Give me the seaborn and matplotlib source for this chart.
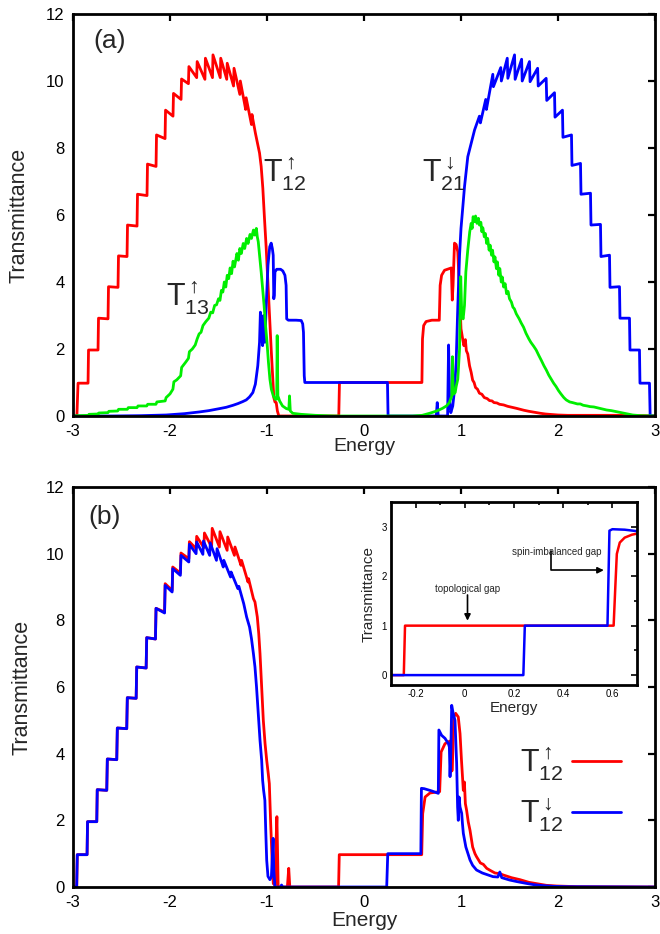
import matplotlib
matplotlib.use("Agg")
import matplotlib.pyplot as plt
import seaborn as sns

# ---------------- data ----------------
xticks_main = [-3, -2, -1, 0, 1, 2, 3]
xticklabels_main = ["-3", "-2", "-1", "0", "1", "2", "3"]
yticks_main = [0, 2, 4, 6, 8, 10, 12]
yticklabels_main = ["0", "2", "4", "6", "8", "10", "12"]
xticks_inset = [-0.2, 0.0, 0.2, 0.4, 0.6]
xticklabels_inset = ["-0.2", "0", "0.2", "0.4", "0.6"]
yticks_inset = [0, 1, 2, 3]
yticklabels_inset = ["0", "1", "2", "3"]

# panel (a): T12 up (red)
a_red = [(-3.0,0.0),(-2.96,0.0),(-2.948,0.98),(-2.845,0.98),(-2.84,1.97),(-2.742,1.97),(-2.737,2.92),
         (-2.639,2.9),(-2.634,3.86),(-2.536,3.84),(-2.531,4.78),(-2.443,4.76),(-2.438,5.70),(-2.34,5.67),
         (-2.335,6.62),(-2.237,6.58),(-2.232,7.52),(-2.144,7.45),(-2.139,8.39),(-2.051,8.28),(-2.046,9.13),
         (-1.969,8.95),(-1.964,9.63),(-1.886,9.45),(-1.881,10.06),(-1.81,9.92),(-1.805,10.43),(-1.725,10.1),
         (-1.72,10.58),(-1.64,10.05),(-1.635,10.68),(-1.562,10.1),(-1.557,10.78),(-1.482,10.1),(-1.477,10.68),
         (-1.415,10.05),(-1.41,10.53),(-1.345,9.85),(-1.34,10.38),(-1.28,9.6),(-1.275,10.0),(-1.22,9.15),
         (-1.215,9.5),(-1.16,8.7),(-1.155,9.0),(-1.12,8.45),(-1.095,8.1),(-1.077,7.85),(-1.06,7.45),
         (-1.043,6.8),(-1.026,5.9),(-1.008,5.0),(-0.991,4.0),(-0.974,3.0),(-0.957,2.0),(-0.94,1.1),
         (-0.93,0.55),(-0.918,0.42),(-0.905,0.4),(-0.893,0.15),(-0.878,0.0),(-0.26,0.0),(-0.253,1.0),
         (0.597,1.0),(0.603,2.3),(0.615,2.7),(0.64,2.82),(0.7,2.86),(0.776,2.86),(0.785,3.9),(0.8,4.2),
         (0.83,4.35),(0.9,4.42),(0.91,3.46),(0.918,3.9),(0.933,5.16),(0.95,5.12),(0.967,4.9),(0.985,3.7),
         (1.0,2.6),(1.019,2.27),(1.03,2.1),(1.045,2.28),(1.055,1.95),(1.07,1.85),(1.088,1.5),(1.105,1.3),
         (1.12,1.07),(1.135,1.0),(1.15,0.85),(1.17,0.8),(1.19,0.68),(1.215,0.65),(1.24,0.55),(1.27,0.52),
         (1.294,0.46),(1.32,0.45),(1.34,0.4),(1.37,0.39),(1.397,0.35),(1.44,0.33),(1.48,0.29),(1.525,0.26),
         (1.57,0.23),(1.61,0.2),(1.65,0.17),(1.7,0.14),(1.74,0.12),(1.78,0.1),(1.82,0.08),(1.87,0.06),
         (1.91,0.05),(2.0,0.03),(2.1,0.02),(2.3,0.02),(2.6,0.02),(2.9,0.01),(3.0,0.0)]

# panel (a): T21 down (blue)
a_blue = [(-3.0,0.0),(-2.6,0.0),(-2.3,0.01),(-2.04,0.03),(-1.85,0.07),(-1.7,0.12),(-1.6,0.16),(-1.49,0.22),
          (-1.42,0.26),(-1.35,0.32),(-1.3,0.37),(-1.25,0.43),(-1.214,0.48),(-1.18,0.57),(-1.146,0.7),
          (-1.12,0.95),(-1.095,1.5),(-1.077,2.2),(-1.068,3.1),(-1.058,2.5),(-1.045,2.1),(-1.035,3.0),
          (-1.022,2.2),(-1.008,3.3),(-0.99,4.5),(-0.972,5.05),(-0.957,5.16),(-0.945,5.0),(-0.936,4.8),
          (-0.93,3.5),(-0.925,3.6),(-0.918,4.3),(-0.9,4.38),(-0.86,4.38),(-0.837,4.33),(-0.815,4.2),
          (-0.803,3.9),(-0.797,2.9),(-0.78,2.86),(-0.7,2.86),(-0.647,2.85),(-0.632,2.75),(-0.624,2.5),
          (-0.616,1.2),(-0.61,1.0),(0.242,1.0),(0.248,0.0),(0.745,0.0),(0.755,0.4),(0.765,0.0),(0.862,0.0),
          (0.872,2.12),(0.882,0.5),(0.895,0.1),(0.915,0.3),(0.933,0.78),(0.95,1.6),(0.967,3.26),(0.985,4.8),
          (1.0,5.6),(1.019,6.25),(1.036,6.84),(1.07,7.74),(1.105,8.14),(1.14,8.54),(1.19,8.95),(1.2,8.75),
          (1.255,9.45),(1.262,9.15),(1.328,10.2),(1.334,9.83),(1.41,10.4),(1.416,10.0),(1.477,10.68),
          (1.483,10.08),(1.552,10.78),(1.558,10.05),(1.625,10.65),(1.631,10.0),(1.706,10.58),(1.712,9.98),
          (1.79,10.38),(1.796,9.85),(1.878,10.08),(1.884,9.42),(1.964,9.65),(1.969,8.92),(2.046,9.13),
          (2.051,8.32),(2.139,8.39),(2.144,7.48),(2.232,7.54),(2.237,6.62),(2.335,6.65),(2.34,5.7),
          (2.438,5.72),(2.443,4.76),(2.531,4.8),(2.536,3.84),(2.634,3.86),(2.639,2.92),(2.737,2.92),
          (2.742,1.97),(2.84,1.97),(2.845,0.98),(2.943,0.98),(2.95,0.0),(3.0,0.0)]

# panel (a): T13 up (green)
a_green = [(-3.0,0.0),(-2.94,0.01),(-2.84,0.02),(-2.835,0.05),(-2.74,0.06),(-2.733,0.09),(-2.64,0.1),
           (-2.63,0.14),(-2.54,0.15),(-2.53,0.2),(-2.44,0.2),(-2.43,0.25),(-2.34,0.25),(-2.33,0.3),
           (-2.24,0.3),(-2.23,0.35),(-2.145,0.35),(-2.135,0.42),(-2.05,0.45),(-2.04,0.55),(-2.0,0.66),
           (-1.97,0.8),(-1.96,1.02),(-1.93,1.08),(-1.89,1.2),(-1.88,1.45),(-1.84,1.6),(-1.81,1.72),
           (-1.8,1.92),(-1.77,2.0),(-1.74,2.12),(-1.72,2.3),(-1.7,2.45),(-1.68,2.5),(-1.66,2.7),(-1.63,2.82),
           (-1.6,2.92),(-1.58,3.1),(-1.56,3.08),(-1.54,3.3),(-1.52,3.32),(-1.5,3.5),(-1.485,3.45),
           (-1.47,3.75),(-1.455,3.7),(-1.44,4.0),(-1.425,3.85),(-1.41,4.2),(-1.395,4.1),(-1.38,4.42),
           (-1.365,4.25),(-1.35,4.62),(-1.335,4.45),(-1.31,4.85),(-1.295,4.65),(-1.28,5.0),(-1.265,4.85),
           (-1.245,5.15),(-1.23,5.0),(-1.21,5.3),(-1.195,5.15),(-1.175,5.42),(-1.16,5.3),(-1.14,5.55),
           (-1.125,5.4),(-1.11,5.6),(-1.1,5.35),(-1.09,5.2),(-1.075,4.75),(-1.06,4.3),(-1.045,3.8),
           (-1.03,3.3),(-1.015,2.7),(-1.0,2.2),(-0.985,1.6),(-0.97,1.1),(-0.955,0.8),(-0.935,0.6),
           (-0.915,0.5),(-0.9,0.5),(-0.895,2.4),(-0.888,0.6),(-0.87,0.45),(-0.84,0.3),(-0.8,0.22),
           (-0.775,0.2),(-0.768,0.6),(-0.76,0.15),(-0.734,0.08),(-0.65,0.05),(-0.5,0.02),(-0.3,0.0),
           (0.5,0.0),(0.6,0.02),(0.675,0.08),(0.75,0.15),(0.81,0.23),(0.85,0.3),(0.88,0.4),(0.905,0.6),
           (0.912,1.77),(0.92,0.65),(0.94,0.7),(0.95,0.88),(0.967,1.1),(0.985,2.0),(0.997,4.16),
           (1.008,3.0),(1.022,2.9),(1.036,3.3),(1.05,4.3),(1.07,4.96),(1.09,5.5),(1.105,5.75),(1.115,5.6),
           (1.125,5.95),(1.14,5.8),(1.15,5.97),(1.165,5.75),(1.18,5.9),(1.19,5.7),(1.205,5.78),(1.215,5.5),
           (1.225,5.62),(1.24,5.35),(1.25,5.45),(1.265,5.15),(1.275,5.3),(1.29,4.95),(1.3,5.1),(1.315,4.8),
           (1.325,4.95),(1.34,4.6),(1.35,4.75),(1.365,4.4),(1.375,4.6),(1.39,4.2),(1.4,4.4),(1.415,4.0),
           (1.425,4.15),(1.44,3.85),(1.455,3.95),(1.47,3.65),(1.485,3.72),(1.5,3.5),(1.52,3.4),
           (1.535,3.25),(1.55,3.2),(1.57,3.05),(1.6,2.9),(1.62,2.78),(1.645,2.65),(1.67,2.47),(1.7,2.3),
           (1.72,2.2),(1.75,2.08),(1.775,1.97),(1.8,1.82),(1.83,1.65),(1.855,1.5),(1.88,1.37),(1.905,1.22),
           (1.93,1.1),(1.955,0.98),(1.98,0.88),(2.005,0.76),(2.03,0.66),(2.06,0.55),(2.085,0.48),
           (2.12,0.42),(2.15,0.4),(2.2,0.36),(2.23,0.36),(2.26,0.32),(2.3,0.3),(2.33,0.28),(2.37,0.27),
           (2.43,0.23),(2.47,0.2),(2.5,0.18),(2.55,0.16),(2.6,0.13),(2.65,0.1),(2.7,0.07),(2.77,0.03),
           (2.85,0.01),(3.0,0.0)]

# panel (b): T12 up (red)
b_red = [(-3.0,0.0),(-2.962,0.0),(-2.956,0.97),(-2.855,0.97),(-2.85,1.96),(-2.755,1.96),(-2.75,2.92),
         (-2.652,2.9),(-2.646,3.84),(-2.549,3.82),(-2.543,4.77),(-2.446,4.75),(-2.44,5.68),(-2.349,5.66),
         (-2.343,6.6),(-2.246,6.57),(-2.24,7.48),(-2.15,7.44),(-2.144,8.36),(-2.056,8.25),(-2.05,9.1),
         (-1.978,8.9),(-1.972,9.6),(-1.893,9.42),(-1.887,10.02),(-1.806,9.85),(-1.8,10.36),(-1.731,10.15),
         (-1.725,10.52),(-1.651,10.18),(-1.645,10.62),(-1.571,10.2),(-1.565,10.76),(-1.491,10.2),
         (-1.485,10.66),(-1.411,10.1),(-1.405,10.5),(-1.336,9.95),(-1.33,10.2),(-1.268,9.65),(-1.262,9.8),
         (-1.196,9.15),(-1.19,9.25),(-1.14,8.65),(-1.124,8.55),(-1.1,8.1),(-1.085,7.6),(-1.072,7.0),
         (-1.055,6.0),(-1.038,5.0),(-1.02,4.3),(-1.003,3.8),(-0.987,3.4),(-0.976,3.1),(-0.962,1.9),
         (-0.95,1.0),(-0.942,0.4),(-0.935,0.1),(-0.915,0.05),(-0.905,1.5),(-0.898,2.11),(-0.892,1.2),
         (-0.885,0.0),(-0.79,0.0),(-0.776,0.56),(-0.765,0.0),(-0.262,0.0),(-0.255,0.97),(0.595,0.97),
         (0.605,2.2),(0.63,2.7),(0.68,2.82),(0.78,2.86),(0.795,4.05),(0.835,4.3),(0.887,4.38),(0.895,3.46),
         (0.91,3.5),(0.925,5.1),(0.945,5.21),(0.972,5.1),(0.99,4.6),(1.005,3.8),(1.024,2.9),(1.035,3.15),
         (1.045,2.5),(1.058,2.3),(1.075,1.95),(1.093,1.7),(1.12,1.2),(1.144,1.0),(1.16,0.91),(1.2,0.72),
         (1.23,0.68),(1.265,0.56),(1.3,0.5),(1.35,0.42),(1.4,0.4),(1.436,0.36),(1.52,0.28),(1.608,0.22),
         (1.7,0.14),(1.78,0.1),(1.88,0.05),(1.986,0.03),(2.2,0.01),(3.0,0.0)]

# panel (b): T12 down (blue)
b_blue = [(-3.0,0.0),(-2.962,0.0),(-2.956,0.97),(-2.855,0.97),(-2.85,1.96),(-2.755,1.96),(-2.75,2.92),
          (-2.652,2.9),(-2.646,3.84),(-2.549,3.82),(-2.543,4.77),(-2.446,4.75),(-2.44,5.68),(-2.349,5.66),
          (-2.343,6.6),(-2.246,6.57),(-2.24,7.48),(-2.15,7.44),(-2.144,8.36),(-2.056,8.22),(-2.05,9.05),
          (-1.978,8.85),(-1.972,9.55),(-1.893,9.35),(-1.887,9.95),(-1.806,9.75),(-1.8,10.28),(-1.731,10.0),
          (-1.725,10.35),(-1.661,9.98),(-1.655,10.38),(-1.591,9.95),(-1.585,10.32),(-1.521,9.8),
          (-1.515,10.15),(-1.451,9.6),(-1.445,9.8),(-1.376,9.3),(-1.37,9.45),(-1.3,8.95),(-1.29,9.02),
          (-1.24,8.5),(-1.21,8.1),(-1.18,7.8),(-1.16,7.45),(-1.14,7.0),(-1.124,6.6),(-1.108,6.0),
          (-1.09,5.2),(-1.072,4.4),(-1.055,3.8),(-1.045,3.2),(-1.035,2.9),(-1.022,2.6),(-1.012,1.6),
          (-1.003,0.8),(-0.99,0.32),(-0.97,0.22),(-0.955,0.3),(-0.945,0.9),(-0.937,1.46),(-0.93,0.5),
          (-0.918,0.0),(-0.86,0.0),(-0.85,0.06),(-0.84,0.0),(0.234,0.0),(0.245,1.0),(0.586,1.0),
          (0.592,2.96),(0.62,2.95),(0.7,2.88),(0.766,2.81),(0.772,4.71),(0.8,4.55),(0.835,4.46),(0.87,4.3),
          (0.88,4.2),(0.887,3.31),(0.895,4.0),(0.904,5.45),(0.92,5.2),(0.938,5.0),(0.955,3.71),(0.965,2.4),
          (0.972,2.0),(0.98,2.7),(0.99,2.4),(1.007,2.21),(1.015,1.9),(1.024,1.61),(1.05,1.2),(1.093,0.81),
          (1.12,0.65),(1.16,0.51),(1.22,0.42),(1.28,0.36),(1.33,0.31),(1.38,0.3),(1.4,0.45),(1.42,0.28),
          (1.5,0.21),(1.58,0.16),(1.67,0.11),(1.75,0.07),(1.85,0.04),(1.95,0.02),(2.1,0.01),(3.0,0.0)]

# inset
in_red = [(-0.3,0.0),(-0.248,0.0),(-0.243,1.0),(0.605,1.0),(0.612,1.8),(0.618,2.45),(0.63,2.68),
          (0.65,2.78),(0.68,2.84),(0.7,2.86)]
in_blue = [(-0.3,0.0),(0.238,0.0),(0.244,1.0),(0.58,1.0),(0.588,2.92),(0.6,2.95),(0.65,2.94),(0.7,2.91)]

lab_up12 = r"$\mathrm{T}_{12}^{\uparrow}$"
lab_dn12 = r"$\mathrm{T}_{12}^{\downarrow}$"
lab_up13 = r"$\mathrm{T}_{13}^{\uparrow}$"
lab_dn21 = r"$\mathrm{T}_{21}^{\downarrow}$"

RED, BLUE, GREEN = "#ff0000", "#0000ff", "#00ee00"

# ---------------- style ----------------
sns.set_theme(style="white")
plt.rcParams["font.family"] = ["Liberation Sans", "DejaVu Sans"]
plt.rcParams["mathtext.fontset"] = "custom"
plt.rcParams["mathtext.rm"] = "Liberation Sans"
plt.rcParams["mathtext.it"] = "Liberation Sans:italic"
plt.rcParams["mathtext.bf"] = "Liberation Sans:bold"
plt.rcParams["axes.unicode_minus"] = False


def draw(ax, pts, color, label=None, lw=2.0):
    xs = [p[0] for p in pts]
    ys = [p[1] for p in pts]
    sns.lineplot(x=xs, y=ys, ax=ax, color=color, lw=lw, sort=False,
                 estimator=None, label=label, legend=False)


def style_main(ax):
    ax.set_xlim(-3, 3)
    ax.set_ylim(0, 12)
    ax.set_xticks(xticks_main)
    ax.set_xticklabels(xticklabels_main)
    ax.set_yticks(yticks_main)
    ax.set_yticklabels(yticklabels_main)
    ax.tick_params(direction="in", top=True, right=True, length=5, width=1.6,
                   labelsize=12, pad=6, colors="black")
    for sp in ax.spines.values():
        sp.set_linewidth(2.0)
        sp.set_color("black")


fig = plt.figure(figsize=(6.6, 9.34), dpi=100)
axA = fig.add_axes([73 / 660, 1 - 416 / 934, 582 / 660, 402 / 934])
axB = fig.add_axes([73 / 660, 1 - 887 / 934, 582 / 660, 400 / 934])
axI = fig.add_axes([391 / 660, 1 - 685 / 934, 246 / 660, 183 / 934])

# ---- panel (a)
draw(axA, a_red, RED)
draw(axA, a_blue, BLUE)
draw(axA, a_green, GREEN)
style_main(axA)
axA.set_xlabel("Energy", fontsize=14)
axA.set_ylabel("Transmittance", fontsize=15.5)
axA.yaxis.set_label_coords(-0.074, 0.5)
axA.xaxis.set_label_coords(0.5, -0.054)
axA.text(-2.62, 11.2, "(a)", fontsize=19, ha="center", va="center")
axA.text(-1.04, 7.0, lab_up12, fontsize=22, ha="left", va="baseline")
axA.text(-2.04, 3.31, lab_up13, fontsize=22, ha="left", va="baseline")
axA.text(0.6, 7.0, lab_dn21, fontsize=22, ha="left", va="baseline")

# ---- panel (b)
draw(axB, b_red, RED, label=lab_up12)
draw(axB, b_blue, BLUE, label=lab_dn12)
style_main(axB)
axB.set_xlabel("Energy", fontsize=15)
axB.set_ylabel("Transmittance", fontsize=15.5)
axB.yaxis.set_label_coords(-0.069, 0.5)
axB.xaxis.set_label_coords(0.5, -0.059)
axB.text(-2.67, 11.1, "(b)", fontsize=19, ha="center", va="center")
axB.legend(loc="center right", bbox_to_anchor=(0.942, 0.245), markerfirst=False,
           frameon=False, fontsize=22, handlelength=1.6, handletextpad=0.3,
           labelspacing=0.45, borderaxespad=0, borderpad=0)

# ---- inset
draw(axI, in_red, RED, lw=1.8)
draw(axI, in_blue, BLUE, lw=1.8)
axI.set_xlim(-0.3, 0.7)
axI.set_ylim(-0.2, 3.5)
axI.set_xticks(xticks_inset)
axI.set_xticklabels(xticklabels_inset)
axI.set_yticks(yticks_inset)
axI.set_yticklabels(yticklabels_inset)
axI.set_xticks([-0.1, 0.1, 0.3, 0.5], minor=True)
axI.set_yticks([0.5, 1.5, 2.5], minor=True)
axI.tick_params(which="both", direction="in", top=True, right=True, width=1.2,
                labelsize=7, pad=3, colors="black")
axI.tick_params(which="major", length=4)
axI.tick_params(which="minor", length=2.5)
for sp in axI.spines.values():
    sp.set_linewidth(2.0)
    sp.set_color("black")
axI.set_xlabel("Energy", fontsize=11, labelpad=1)
axI.set_ylabel("Transmittance", fontsize=11, labelpad=4)
axI.text(0.01, 1.75, "topological gap", fontsize=7, ha="center", va="center")
axI.annotate("", xy=(0.011, 1.1), xytext=(0.011, 1.62),
             arrowprops=dict(arrowstyle="-|>", color="black", lw=1.2,
                             shrinkA=0, shrinkB=0, mutation_scale=9))
axI.text(0.375, 2.48, "spin-imbalanced gap", fontsize=7, ha="center", va="center")
axI.annotate("", xy=(0.565, 2.12), xytext=(0.349, 2.5),
             arrowprops=dict(arrowstyle="-|>", color="black", lw=1.2,
                             connectionstyle="angle,angleA=90,angleB=0,rad=0",
                             shrinkA=0, shrinkB=0, mutation_scale=9))

fig.savefig("out.png", dpi=100)
